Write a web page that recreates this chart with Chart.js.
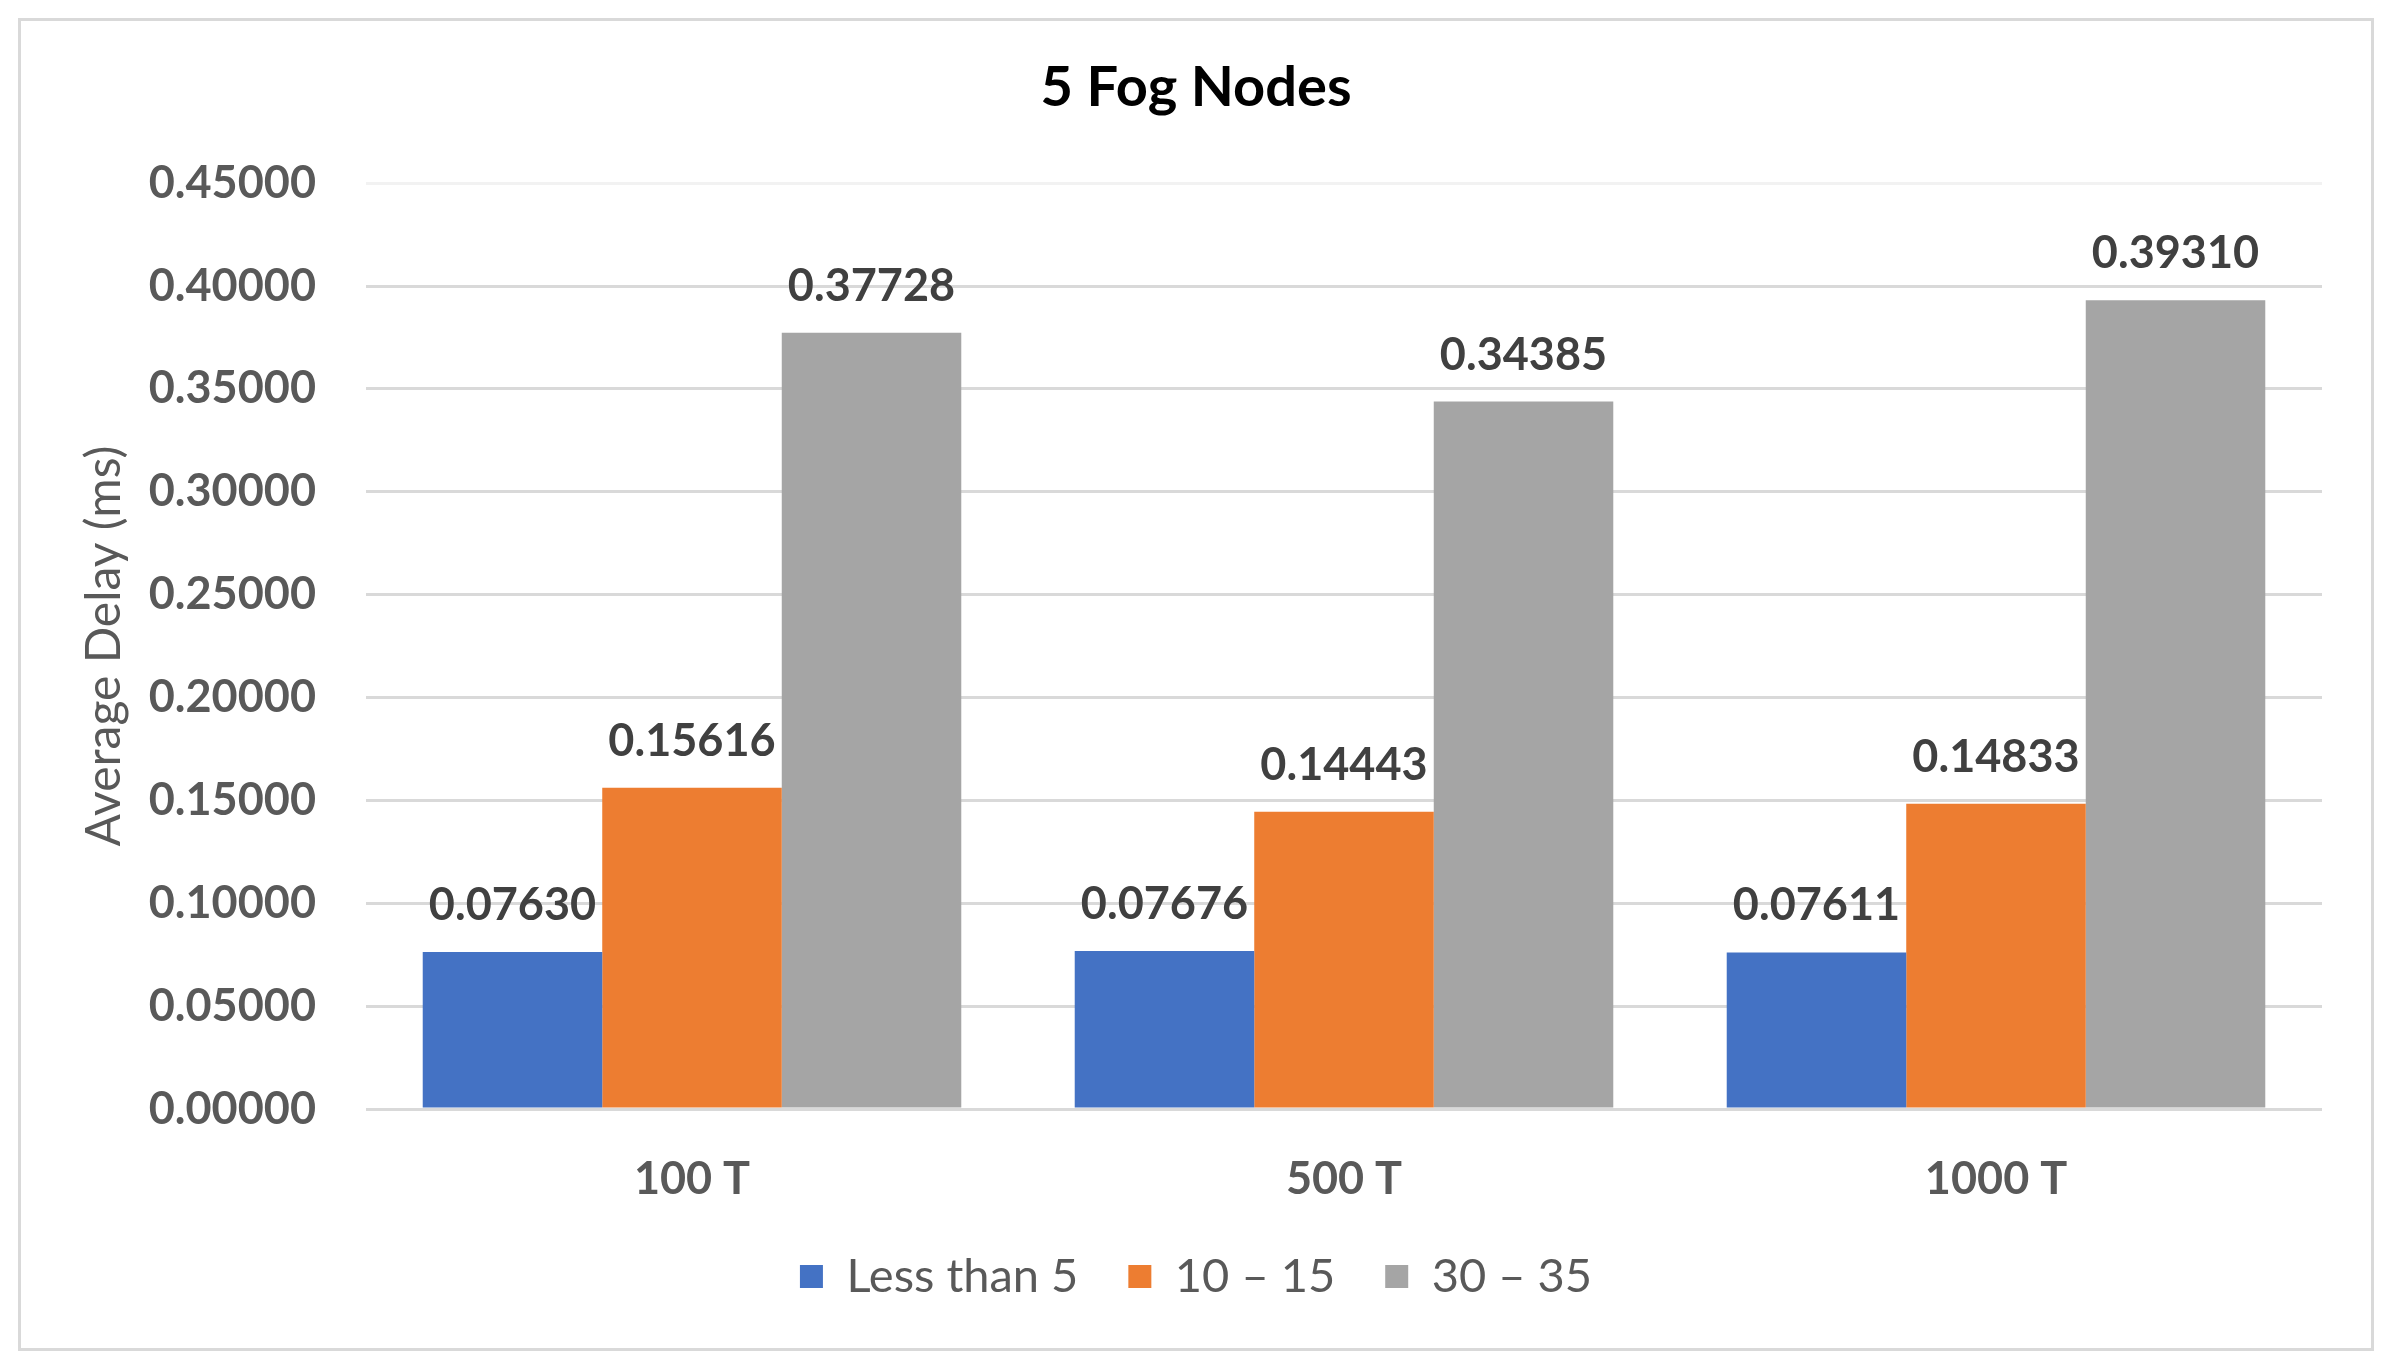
<!DOCTYPE html>
<html>
<head>
<meta charset="utf-8">
<script src="https://cdn.jsdelivr.net/npm/chart.js@4"></script>
<style>
html,body{margin:0;padding:0;background:#fff;}
#wrap{position:relative;width:2392px;height:1368px;}
#frame{position:absolute;left:18px;top:18px;width:2350px;height:1327px;border:3px solid #d9d9d9;pointer-events:none;}
</style>
</head>
<body>
<div id="wrap">
<canvas id="delayChart"></canvas>
<div id="frame"></div>
</div>
<script>
// 5 Fog Nodes - average delay per load

const categories = ["100 T", "500 T", "1000 T"];
const seriesNames = ["Less than 5", "10 \u2013 15", "30 \u2013 35"];
const lessThan5 = [0.07630, 0.07676, 0.07611];
const from10to15 = [0.15616, 0.14443, 0.14833];
const from30to35 = [0.37728, 0.34385, 0.39310];
const colors = ["#4472C4", "#ED7D31", "#A5A5A5"];

const fontName = "Lato";

// value labels above each bar
const barLabels = {
id:"barLabels",
afterDatasetsDraw(chart){
const ctx = chart.ctx;
ctx.save();
ctx.font = "bold 45px " + fontName;
ctx.fillStyle = "#404040";
ctx.textAlign = "center";
ctx.textBaseline = "alphabetic";
chart.data.datasets.forEach(function(ds, i){
chart.getDatasetMeta(i).data.forEach(function(bar, j){
ctx.fillText(ds.data[j].toFixed(5), bar.x, bar.y - 32);
});
});
ctx.restore();
}
};

const ctx = document.getElementById('delayChart');

new Chart(ctx,{
type:'bar',
data:{
labels:categories,
datasets:[
{label:seriesNames[0], data:lessThan5, backgroundColor:colors[0]},
{label:seriesNames[1], data:from10to15, backgroundColor:colors[1]},
{label:seriesNames[2], data:from30to35, backgroundColor:colors[2]}
]
},
options:{
responsive:true,
maintainAspectRatio:false,
devicePixelRatio:1,
animation:false,
categoryPercentage:0.826,
barPercentage:1.0,
layout:{
padding:{left:70, right:70, top:0, bottom:58}
},
plugins:{
title:{
display:true,
text:"5 Fog Nodes",
color:"#000000",
font:{family:fontName, size:56, weight:"bold"},
padding:{top:54, bottom:62}
},
legend:{
position:"bottom",
labels:{
color:"#595959",
font:{family:fontName, size:47},
boxWidth:23,
boxHeight:23,
padding:50
}
},
tooltip:{enabled:false}
},
scales:{
x:{
grid:{display:false},
border:{display:false},
ticks:{
color:"#595959",
font:{family:fontName, size:45, weight:"bold"},
padding:35
},
afterFit:function(scale){ scale.height = 94; }
},
y:{
min:0,
max:0.45,
border:{display:false},
grid:{
drawTicks:false,
lineWidth:3,
color:function(c){ return c.index === 9 ? "#f2f2f2" : "#d9d9d9"; }
},
ticks:{
stepSize:0.05,
color:"#595959",
font:{family:fontName, size:45, weight:"bold"},
padding:50,
callback:function(v){ return v.toFixed(5); }
},
title:{
display:true,
text:"Average Delay (ms)",
color:"#595959",
font:{family:fontName, size:48},
padding:{top:6, bottom:0}
},
afterFit:function(scale){ scale.width = 296; }
}
}
},
plugins:[barLabels]
});
</script>
</body>
</html>
